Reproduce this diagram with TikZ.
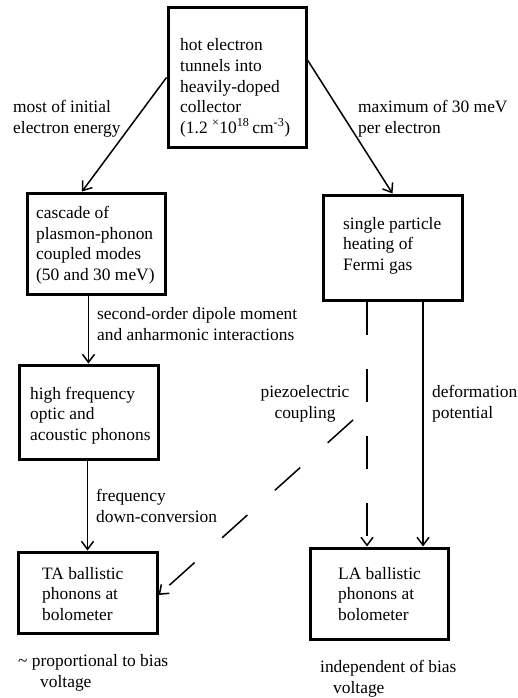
\documentclass[tikz,border=0pt]{standalone}
\usepackage{fontspec}
\setmainfont{Liberation Serif}
\usetikzlibrary{arrows.meta}
\begin{document}
\begin{tikzpicture}[x=1pt,y=-1pt,
  box/.style={draw, line width=3pt, inner sep=0pt},
  txt/.style={inner sep=0pt, align=left, anchor=base west, font=\fontsize{17.4}{20.5}\selectfont},
  arr/.style={line width=1.5pt, -{Straight Barb[length=8pt,width=12pt,line width=1.5pt]}},
  dsh/.style={arr, dash pattern=on 33pt off 34pt}]
\useasboundingbox (0,0) rectangle (517,698);
% boxes
\node[box, minimum width=138pt, minimum height=139pt] (top) at (237,77.5) {};
\node[box, minimum width=138pt, minimum height=101pt] (casc) at (96,243.5) {};
\node[box, minimum width=139pt, minimum height=105pt] (single) at (392.5,247.5) {};
\node[box, minimum width=139pt, minimum height=94pt] (high) at (88.5,412) {};
\node[box, minimum width=139pt, minimum height=81pt] (TA) at (87.5,592.5) {};
\node[box, minimum width=138pt, minimum height=91pt] (LA) at (379,593.5) {};
% box texts (anchor = baseline of last line)
\node[txt] (ttop) at (180,133) {hot electron\\tunnels into\\heavily-doped\\collector\\(1.2 \textsuperscript{×}10\textsuperscript{18}\,cm\textsuperscript{-3})};
\node[txt] (tcasc) at (36,280) {cascade of\\plasmon-phonon\\coupled modes\\(50 and 30 meV)};
\node[txt] (tsingle) at (343,270) {single particle\\heating of\\Fermi gas};
\node[txt] (thigh) at (30,440) {high frequency\\optic and\\acoustic phonons};
\node[txt] (tTA) at (42,620) {TA ballistic\\phonons at\\bolometer};
\node[txt] (tLA) at (338,620) {LA ballistic\\phonons at\\bolometer};
% labels
\node[txt] (lmost) at (13,133) {most of initial\\electron energy};
\node[txt] (lmax) at (358,133) {maximum of 30 meV\\per electron};
\node[txt] (lsec) at (97,340) {second-order dipole moment\\and anharmonic interactions};
\node[txt, align=center, anchor=base] (lpiezo) at (305,418) {piezoelectric\\coupling};
\node[txt] (ldef) at (432,418) {deformation\\potential};
\node[txt] (lfreq) at (96,522) {frequency\\down-conversion};
\node[txt] (lprop) at (18,687) {\textasciitilde{} proportional to bias\\\hspace*{22pt}voltage};
\node[txt] (lind) at (320,693) {independent of bias\\\hspace*{13pt}voltage};
% connectors
\draw[arr] (top.west) -- ([xshift=-14pt]casc.north);
\draw[arr] ([yshift=17.5pt]top.east) -- (single.north);
\draw[arr] (high.north |- casc.south) -- (high.north);
\draw[arr] (TA.north |- high.south) -- (TA.north);
\draw[arr] ([xshift=30.5pt]single.south) -- ([xshift=30.5pt]single.south |- LA.north);
\draw[dsh] ([xshift=-25.5pt]single.south) -- ([xshift=-25.5pt]single.south |- LA.north);
\coordinate (pz) at (353,420);
\draw[dsh, dash pattern=on 34pt off 37pt] (pz) -- ([yshift=-2.5pt]TA.east);
\end{tikzpicture}
\end{document}
